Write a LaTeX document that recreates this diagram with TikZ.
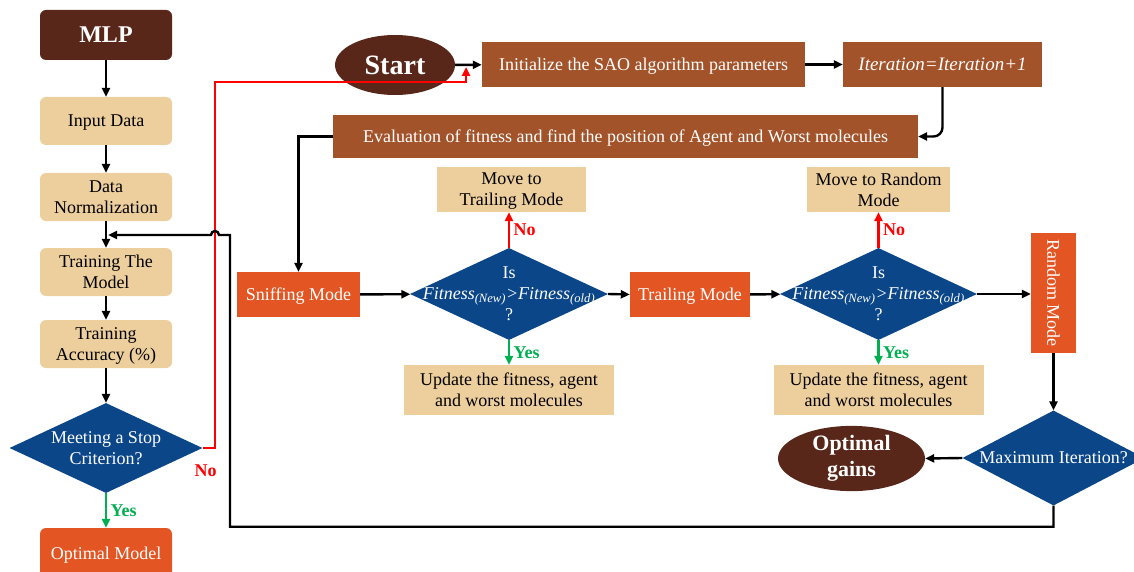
\documentclass[tikz,border=0pt]{standalone}
\usepackage{fontspec}
\setmainfont{Liberation Serif}
\usetikzlibrary{shapes.geometric,arrows.meta}
\definecolor{cafe}{HTML}{58271A}
\definecolor{siena}{HTML}{A3532A}
\definecolor{naranja}{HTML}{E35624}
\definecolor{arena}{HTML}{EDCE9D}
\definecolor{azul}{HTML}{0B4689}
\definecolor{verde}{HTML}{00B050}
\definecolor{rojo}{HTML}{FF0000}
\tikzset{
	base/.style={inner sep=2pt, align=center, text depth=0pt, font=\fontsize{18}{21}\selectfont},
	caja/.style={base, fill=arena, text=black, minimum width=132pt, minimum height=48pt, rounded corners=6pt},
	rect/.style={base, fill=arena, text=black, minimum height=45pt},
	bloque/.style={base, fill=siena, text=white, minimum height=45pt},
	modo/.style={base, fill=naranja, text=white, minimum height=45pt},
	elipse/.style={ellipse, fill=cafe, text=white, inner sep=0pt, align=center},
	rombo/.style={diamond, fill=azul, inner sep=0pt},
	rombotxt/.style={base, text=white},
	flecha/.style={->, line width=2.4pt},
	si/.style={font=\fontsize{18}{20}\selectfont\bfseries, text=verde},
	no/.style={font=\fontsize{18}{20}\selectfont\bfseries, text=rojo}
}
\newcommand{\fit}{\textit{Fitness\textsubscript{(New)}>Fitness\textsubscript{(old)}}}
\begin{document}
\begin{tikzpicture}[x=1pt, y=-1pt, >={Triangle[length=9pt,width=8pt]}]
		\useasboundingbox (0,0) rectangle (1134,572);
		% columna MLP
		\node [caja, fill=cafe, text=white, minimum height=50pt, font=\fontsize{24}{26}\selectfont\bfseries] (mlp) at (106,35) {MLP};
		\node [caja] (input) at (106,121) {Input Data};
		\node [caja] (norm) at (106,197) {Data\\Normalization};
		\node [caja] (train) at (106,272) {Training The\\Model};
		\node [caja] (acc) at (106,344) {Training\\Accuracy (\%)};
		\node [rombo, minimum width=193pt, minimum height=90pt] (stop) at (106,448) {};
		\node [rombotxt] (stoptxt) at (stop) {Meeting a Stop\\Criterion?};
		\node [caja, fill=naranja, text=white, minimum height=50pt] (optmodel) at (106,553) {Optimal Model};
		\draw [flecha] (mlp) -- (input);
		\draw [flecha] (input) -- (norm);
		\draw [flecha] (norm) -- (train);
		\draw [flecha] (train) -- (acc);
		\draw [flecha] (acc) -- (stop);
		\draw [flecha, verde] (stop) -- (optmodel) node [midway, right, si] {Yes};
		% fila superior
		\node [elipse, minimum width=120pt, minimum height=60pt, font=\fontsize{28}{30}\selectfont\bfseries] (start) at (395,65) {Start};
		\node [bloque, minimum width=323pt] (init) at (643.5,64.5) {Initialize the SAO algorithm parameters};
		\node [bloque, minimum width=199pt, font=\fontsize{19}{21}\selectfont\itshape] (iter) at (942.5,64.5) {Iteration=Iteration+1};
		\node [bloque, minimum width=585pt, minimum height=43pt] (eval) at (625.5,136.5) {Evaluation of fitness and find the position of Agent and Worst molecules};
		\draw [flecha] (start) -- (init);
		\draw [flecha] (init) -- (iter);
		\draw [flecha, rounded corners=9pt] (iter.south) |- (eval.east);
		% modos
		\node [modo, minimum width=123pt] (sniff) at (298.5,294.5) {Sniffing Mode};
		\node [rombo, minimum width=198pt, minimum height=92pt] (dec1) at (509,294) {};
		\node [rombotxt] (dec1txt) at (dec1) {Is\\\fit\\?};
		\node [rect, minimum width=149pt] (mtrail) at (511.5,189.5) {Move to\\Trailing Mode};
		\node [rect, minimum width=210pt, minimum height=50pt] (upd1) at (509,390) {Update the fitness, agent\\and worst molecules};
		\node [modo, minimum width=120pt] (trail) at (690,294.5) {Trailing Mode};
		\node [rombo, minimum width=197pt, minimum height=92pt] (dec2) at (878.5,294) {};
		\node [rombotxt] (dec2txt) at (dec2) {Is\\\fit\\?};
		\node [rect, minimum width=143pt] (mrand) at (878.5,189.5) {Move to Random\\Mode};
		\node [rect, minimum width=210pt, minimum height=50pt] (upd2) at (878.5,390) {Update the fitness, agent\\and worst molecules};
		\node [modo, rotate=-90, minimum width=120pt] (rand) at (1053.5,293) {Random Mode};
		\node [rombo, minimum width=182pt, minimum height=95pt] (dec3) at (1053.5,458) {};
		\node [rombotxt] (dec3txt) at (dec3) {Maximum Iteration?};
		\node [elipse, minimum width=147pt, minimum height=57pt, font=\fontsize{22}{26}\selectfont\bfseries] (optgain) at (851.5,458.5) {Optimal\\gains};
		\draw [flecha] (eval.west) -| (sniff.north);
		\draw [flecha] (sniff) -- (dec1);
		\draw [flecha, rojo] (dec1.north) -- (dec1.north |- mtrail.south) node [midway, right, no] {No};
		\draw [flecha, verde] (dec1.south) -- (dec1.south |- upd1.north) node [midway, right, si] {Yes};
		\draw [flecha] (dec1.east) -- (trail.west);
		\draw [flecha] (trail) -- (dec2);
		\draw [flecha, rojo] (dec2.north) -- (dec2.north |- mrand.south) node [midway, right, no] {No};
		\draw [flecha, verde] (dec2.south) -- (dec2.south |- upd2.north) node [midway, right, si] {Yes};
		\draw [flecha] (dec2.east) -- (dec2.east -| rand.south); % nodo girado
		\draw [flecha] (rand.east) -- (dec3.north);
		\draw [flecha] (dec3.west) -- (optgain.east);
		% lazos de retorno
		\coordinate (redjoin) at (466,67);
		\coordinate (merge) at (108,235);
		\draw [flecha, rojo] (stop.east) -- (215,448) -- (215,82) -| (redjoin);
		\node [no, anchor=north west] (nolbl) at (191,461) {No};
		\draw [flecha] (dec3.south) -- ++(0,21) -| (230,235) -- (219,235) arc (0:-180:4) -- (merge);
\end{tikzpicture}
\end{document}
